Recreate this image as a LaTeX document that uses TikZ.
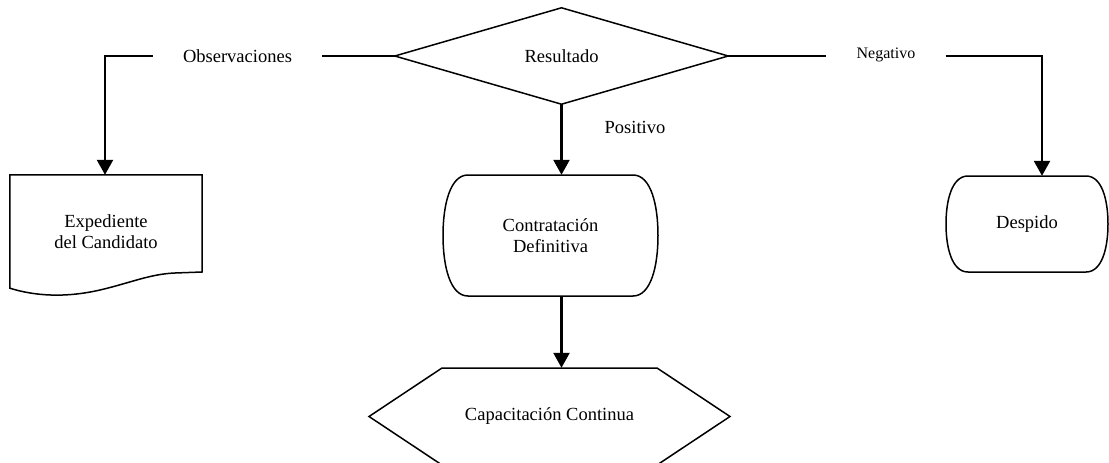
\documentclass[tikz,border=0pt]{standalone}
\usepackage{fontspec}
\setmainfont{Liberation Serif}
\usetikzlibrary{arrows.meta,calc}
\begin{document}
\begin{tikzpicture}[x=1pt,y=-1pt,
  box/.style={inner sep=0pt, font=\fontsize{18.5}{21}\selectfont, align=center},
  lbl/.style={font=\fontsize{18.5}{21}\selectfont, inner xsep=30pt, inner ysep=0pt},
  outline/.style={line width=1.5pt, line join=miter},
  hline/.style={line width=1.5pt},
  arr/.style={line width=2.4pt, shorten <=-0.75pt, -{Triangle[width=16pt,length=15pt]}},
]
\clip (0,0) rectangle (1109,463);
\fill[white] (0,0) rectangle (1109,463);

% decision
\node[box, minimum width=333pt, minimum height=96pt] (res) at (561.5,56) {Resultado};
\draw[outline] (res.west) -- (res.north) -- (res.east) -- (res.south) -- cycle;

% branch labels
\node[lbl] (obs) at (237.5,56) {Observaciones};
\node[lbl, font=\fontsize{16}{19}\selectfont] (neg) at (886,54.5) {Negativo};
\node[box] (pos) at (635,127) {Positivo};

% document
\node[box, minimum width=192pt, minimum height=113pt] (exp) at (106,231.5) {Expediente\\del Candidato};
\draw[outline] (exp.south west) -- (exp.north west) -- (exp.north east) -- (202,272) -- (175,273)
  .. controls (150,274) and (130,283) .. (100,290)
  .. controls (65,298) and (35,296) .. (exp.south west) -- cycle;

% terminator: Contratacion
\node[box, minimum width=215pt, minimum height=121pt] (con) at (550.5,235.5) {Contrataci\'on\\Definitiva};
\draw[outline] (468,175) -- (633,175) .. controls (651,175) and (658,205) .. (658,235.5)
  .. controls (658,266) and (651,296) .. (633,296) -- (468,296)
  .. controls (450,296) and (443,266) .. (443,235.5)
  .. controls (443,205) and (450,175) .. (468,175) -- cycle;

% terminator: Despido
\node[box, minimum width=162pt, minimum height=96pt] (des) at (1027,224) {Despido};
\draw[outline] (968,176) -- (1086,176) .. controls (1102,176) and (1108,200) .. (1108,224)
  .. controls (1108,248) and (1102,272) .. (1086,272) -- (968,272)
  .. controls (952,272) and (946,248) .. (946,224)
  .. controls (946,200) and (952,176) .. (968,176) -- cycle;

% hexagon
\node[box, minimum width=361pt, minimum height=96pt] (cap) at (549.5,416) {Capacitaci\'on Continua};
\draw[outline] (369,416.5) -- (442,368) -- (657,368) -- (730,416.5) -- (657,465) -- (442,465) -- cycle;

% connectors
\coordinate (nl) at (105,56);
\coordinate (nr) at (1042,56);
\draw[hline] (res.west) -- (res.west -| obs.east);
\draw[hline] (res.west -| obs.west) -- (nl);
\draw[arr] (nl) -- (nl |- exp.north);
\draw[hline] (res.east) -- (res.east -| neg.west);
\draw[hline] (res.east -| neg.east) -- (nr);
\draw[arr] (nr) -- (nr |- des.north);
\draw[arr, shorten <=0pt] (res.south) -- (res.south |- con.north);
\draw[arr, shorten <=0pt] (res.south |- con.south) -- (res.south |- cap.north);
\end{tikzpicture}
\end{document}
